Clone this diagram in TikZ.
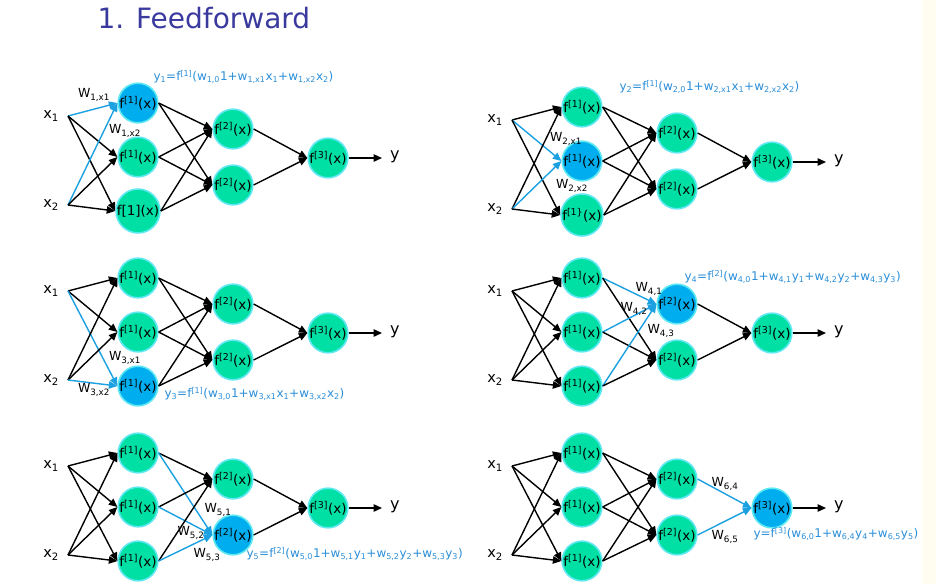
\documentclass[tikz,border=0pt]{standalone}
\usepackage{fontspec}
\setmainfont{DejaVu Sans}
\usetikzlibrary{arrows.meta}
\definecolor{mint}{HTML}{00E0A4}
\definecolor{rim}{HTML}{5EE8F2}
\definecolor{hot}{HTML}{00AEEF}
\definecolor{wire}{HTML}{1BA1E2}
\definecolor{note}{HTML}{2B8FD9}
\definecolor{navy}{HTML}{3A3A9E}
\definecolor{cream}{HTML}{FFFDEF}
\tikzset{
  neuron/.style={circle,fill=mint,draw=rim,line width=1.6pt,minimum size=37pt,inner sep=0pt,font=\fontsize{13.5}{15}\selectfont},
  lit/.style={fill=hot},
  edge/.style={-{Triangle[length=8.5pt,width=7.5pt]},line width=1.4pt},
  wedge/.style={edge,wire},
  inp/.style={anchor=east,inner xsep=9pt,font=\fontsize{14.5}{16}\selectfont},
  wlab/.style={font=\fontsize{12.5}{14}\selectfont},
  eqn/.style={anchor=west,text=note,font=\fontsize{12}{14}\selectfont}
}
\newcommand{\dn}[1]{\textsubscript{#1}}
\newcommand{\upr}[1]{\textsuperscript{#1}}
\newcommand{\fl}[1]{f\upr{[#1]}(x)}
% one network: #1 name, #2 x, #3 y of the top first-layer node, #4 text of the lowest one
\newcommand{\net}[4]{%
  \node[inp] (#1-x1) at (#2-70,#3+13) {x\dn{1}};
  \node[inp] (#1-x2) at (#2-70,#3+102) {x\dn{2}};
  \node[neuron,n-a/.try] (#1-a) at (#2,#3) {\fl1};
  \node[neuron,n-b/.try] (#1-b) at (#2,#3+54) {\fl1};
  \node[neuron,n-c/.try] (#1-c) at (#2,#3+108) {#4};
  \node[neuron,minimum size=35pt,n-d/.try] (#1-d) at (#2+95,#3+26) {\fl2};
  \node[neuron,minimum size=35pt,n-e/.try] (#1-e) at (#2+95,#3+82) {\fl2};
  \node[neuron,n-o/.try] (#1-o) at (#2+190,#3+55) {\fl3};
  \foreach \p/\q in {x1/a,x1/b,x1/c,x2/a,x2/b,x2/c,a/d,a/e,b/d,b/e,c/d,c/e,d/o,e/o}
    \draw[edge,e-\p\q/.try] (#1-\p.east) -- (#1-\q.west);
  \coordinate (#1-y) at (#2+244,#3+55);
  \draw[edge] (#1-o.east) -- (#1-y);
  \node[anchor=west,inner sep=0pt,font=\fontsize{16}{18}\selectfont] (#1-out) at (#2+252,#3+54) {y};
}

\begin{document}
\begin{tikzpicture}[x=1pt,y=-1pt]
\useasboundingbox (0,0) rectangle (936,584);
\fill[white] (0,0) rectangle (936,584);
\fill[cream] (922,0) rectangle (936,584);
\node[anchor=west,text=navy,font=\fontsize{28}{32}\selectfont] (title) at (94,18) {1. Feedforward};

% y1
\begin{scope}[n-a/.style=lit,e-x1a/.style=wedge,e-x2a/.style=wedge]
\net{tl}{138}{103}{f[1](x)}
\end{scope}
\node[wlab] (tl-w1) at (94,95) {W\dn{1,x1}};
\node[wlab] (tl-w2) at (125,131) {W\dn{1,x2}};
\node[eqn] (tl-eq) at (150,77) {y\dn{1}=f\upr{[1]}(w\dn{1,0}1+w\dn{1,x1}x\dn{1}+w\dn{1,x2}x\dn{2})};

% y2
\begin{scope}[n-b/.style=lit,e-x1b/.style=wedge,e-x2b/.style=wedge]
\net{tr}{582}{107}{f\upr{[1\}}(x)}
\end{scope}
\node[wlab] (tr-w1) at (566,139) {W\dn{2,x1}};
\node[wlab] (tr-w2) at (572,186) {W\dn{2,x2}};
\node[eqn] (tr-eq) at (616,87) {y\dn{2}=f\upr{[1]}(w\dn{2,0}1+w\dn{2,x1}x\dn{1}+w\dn{2,x2}x\dn{2})};

% y3
\begin{scope}[n-c/.style=lit,e-x1c/.style=wedge,e-x2c/.style=wedge]
\net{ml}{138}{278}{\fl1}
\end{scope}
\node[wlab] (ml-w1) at (125,358) {W\dn{3,x1}};
\node[wlab] (ml-w2) at (94,390) {W\dn{3,x2}};
\node[eqn] (ml-eq) at (161,394) {y\dn{3}=f\upr{[1]}(w\dn{3,0}1+w\dn{3,x1}x\dn{1}+w\dn{3,x2}x\dn{2})};

% y4
\begin{scope}[n-d/.style=lit,e-ad/.style=wedge,e-bd/.style=wedge,e-cd/.style=wedge]
\net{mr}{582}{278}{\fl1}
\end{scope}
\node[wlab] (mr-w1) at (649,289) {W\dn{4,1}};
\node[wlab] (mr-w2) at (634,309) {W\dn{4,2}};
\node[wlab] (mr-w3) at (661,331) {W\dn{4,3}};
\node[eqn] (mr-eq) at (681,277) {y\dn{4}=f\upr{[2]}(w\dn{4,0}1+w\dn{4,1}y\dn{1}+w\dn{4,2}y\dn{2}+w\dn{4,3}y\dn{3})};

% y5
\begin{scope}[n-e/.style=lit,e-ae/.style=wedge,e-be/.style=wedge,e-ce/.style=wedge]
\net{bl}{138}{453}{\fl1}
\end{scope}
\node[wlab] (bl-w1) at (218,510) {W\dn{5,1}};
\node[wlab] (bl-w2) at (191,533) {W\dn{5,2}};
\node[wlab] (bl-w3) at (207,555) {W\dn{5,3}};
\node[eqn] (bl-eq) at (243,554) {y\dn{5}=f\upr{[2]}(w\dn{5,0}1+w\dn{5,1}y\dn{1}+w\dn{5,2}y\dn{2}+w\dn{5,3}y\dn{3})};

% y
\begin{scope}[n-o/.style=lit,e-do/.style=wedge,e-eo/.style=wedge]
\net{br}{582}{453}{\fl1}
\end{scope}
\node[wlab] (br-w4) at (725,484) {W\dn{6,4}};
\node[wlab] (br-w5) at (725,537) {W\dn{6,5}};
\node[eqn] (br-eq) at (750,534) {y=f\upr{[3]}(w\dn{6,0}1+w\dn{6,4}y\dn{4}+w\dn{6,5}y\dn{5})};
\end{tikzpicture}
\end{document}
